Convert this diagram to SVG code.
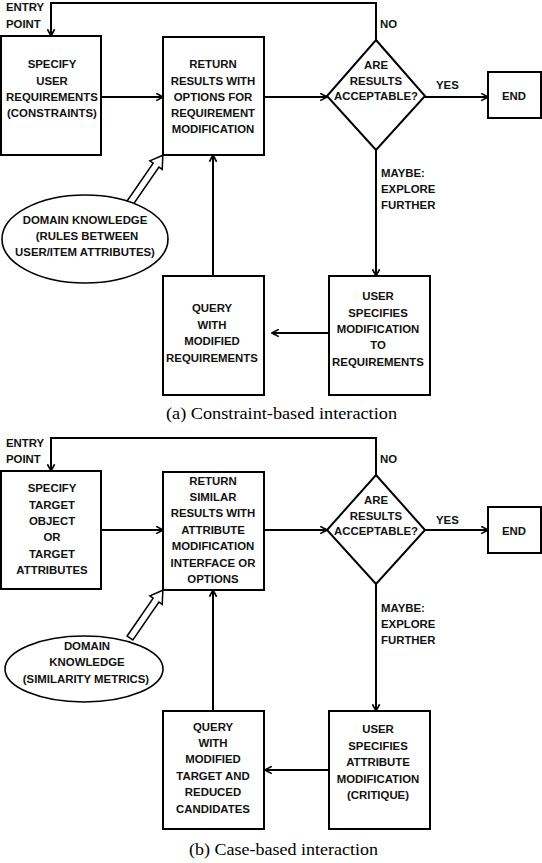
<svg xmlns="http://www.w3.org/2000/svg" width="542" height="863" viewBox="0 0 542 863">
<defs>
<marker id="arr" viewBox="0 0 10 10" refX="9" refY="5" markerWidth="9" markerHeight="9" markerUnits="userSpaceOnUse" orient="auto">
<path d="M1.5,1 L9,5 L1.5,9" fill="none" stroke="#000" stroke-width="1.8"/>
</marker>
</defs>
<style>
.box{fill:#fff;stroke:#000;stroke-width:2}
.ln{fill:none;stroke:#000;stroke-width:2}
.ar{fill:none;stroke:#000;stroke-width:2;marker-end:url(#arr)}
.hol{fill:#fff;stroke:#000;stroke-width:1.5;stroke-linejoin:miter}
text{font-family:"Liberation Sans",Arial,sans-serif;font-weight:bold;font-size:11.4px;fill:#111}
.c{text-anchor:middle}
.cap{font-family:"Liberation Serif","Times New Roman",serif;font-weight:normal;font-size:16px;fill:#000}
</style>

<!-- ===== (a) ===== -->
<g id="connectors-a">
<path class="ar" d="M376,40 V3 H51 V36"/>
<path class="ar" d="M101,97 H163"/>
<path class="ar" d="M264,97 H327"/>
<path class="ar" d="M425,97 H488"/>
<path class="ar" d="M376,150 V276"/>
<path class="ar" d="M329,333 H272"/>
<path class="ar" d="M213,276 V155"/>
<path class="hol" transform="translate(130,203) rotate(-55.5)" d="M0,-3.5 H46 V-7.5 L58,0 L46,7.5 V3.5 H0 Z"/>
<text x="6" y="11">ENTRY</text>
<text x="6" y="28">POINT</text>
<text x="380" y="28">NO</text>
<text x="436" y="89">YES</text>
<text x="381" y="177">MAYBE:</text>
<text x="381" y="193">EXPLORE</text>
<text x="381" y="209">FURTHER</text>
</g>
<g id="a-specify">
<rect class="box" x="1" y="36" width="100" height="119"/>
<text class="c" x="52" y="68">SPECIFY</text>
<text class="c" x="52" y="85">USER</text>
<text class="c" x="52" y="101">REQUIREMENTS</text>
<text class="c" x="52" y="117">(CONSTRAINTS)</text>
</g>
<g id="a-return">
<rect class="box" x="163" y="37" width="101" height="118"/>
<text class="c" x="213" y="68">RETURN</text>
<text class="c" x="213" y="85">RESULTS WITH</text>
<text class="c" x="213" y="101">OPTIONS FOR</text>
<text class="c" x="213" y="117">REQUIREMENT</text>
<text class="c" x="213" y="133">MODIFICATION</text>
</g>
<g id="a-decision">
<path class="box" d="M376,40 L425,96 L376,150 L327,96 Z"/>
<text class="c" x="376" y="69">ARE</text>
<text class="c" x="376" y="85">RESULTS</text>
<text class="c" x="376" y="100">ACCEPTABLE?</text>
</g>
<g id="a-end">
<rect class="box" x="488" y="72" width="53" height="46"/>
<text class="c" x="514" y="100">END</text>
</g>
<g id="a-user">
<rect class="box" x="329" y="276" width="101" height="119"/>
<text class="c" x="378" y="300">USER</text>
<text class="c" x="378" y="317">SPECIFIES</text>
<text class="c" x="378" y="333">MODIFICATION</text>
<text class="c" x="378" y="349">TO</text>
<text class="c" x="378" y="366">REQUIREMENTS</text>
</g>
<g id="a-query">
<rect class="box" x="163" y="276" width="101" height="119"/>
<text class="c" x="212" y="312">QUERY</text>
<text class="c" x="212" y="329">WITH</text>
<text class="c" x="212" y="345">MODIFIED</text>
<text class="c" x="212" y="362">REQUIREMENTS</text>
</g>
<g id="a-domain">
<ellipse class="box" style="stroke-width:1.6" cx="85" cy="239" rx="83" ry="44"/>
<text class="c" x="85" y="224">DOMAIN KNOWLEDGE</text>
<text class="c" x="87" y="240">(RULES BETWEEN</text>
<text class="c" x="85" y="256">USER/ITEM ATTRIBUTES)</text>
</g>
<text class="cap" x="166" y="419" textLength="231" lengthAdjust="spacingAndGlyphs">(a) Constraint-based interaction</text>

<!-- ===== (b) ===== -->
<g id="connectors-b">
<path class="ar" d="M376,475 V438 H51 V471"/>
<path class="ar" d="M101,530 H163"/>
<path class="ar" d="M264,530 H327"/>
<path class="ar" d="M425,530 H488"/>
<path class="ar" d="M376,584 V711"/>
<path class="ar" d="M329,770 H265"/>
<path class="ar" d="M213,711 V590"/>
<path class="hol" transform="translate(130,638) rotate(-55.5)" d="M0,-3.5 H46 V-7.5 L58,0 L46,7.5 V3.5 H0 Z"/>
<text x="6" y="447">ENTRY</text>
<text x="6" y="463">POINT</text>
<text x="380" y="463">NO</text>
<text x="436" y="524">YES</text>
<text x="381" y="612">MAYBE:</text>
<text x="381" y="628">EXPLORE</text>
<text x="381" y="644">FURTHER</text>
</g>
<g id="b-specify">
<rect class="box" x="1" y="471" width="100" height="118"/>
<text class="c" x="52" y="492">SPECIFY</text>
<text class="c" x="52" y="509">TARGET</text>
<text class="c" x="52" y="525">OBJECT</text>
<text class="c" x="52" y="541">OR</text>
<text class="c" x="52" y="558">TARGET</text>
<text class="c" x="52" y="574">ATTRIBUTES</text>
</g>
<g id="b-return">
<rect class="box" x="163" y="472" width="101" height="118"/>
<text class="c" x="213" y="485">RETURN</text>
<text class="c" x="213" y="501">SIMILAR</text>
<text class="c" x="213" y="517">RESULTS WITH</text>
<text class="c" x="213" y="534">ATTRIBUTE</text>
<text class="c" x="213" y="550">MODIFICATION</text>
<text class="c" x="213" y="567">INTERFACE OR</text>
<text class="c" x="213" y="583">OPTIONS</text>
</g>
<g id="b-decision">
<path class="box" d="M376,475 L425,530 L376,584 L327,530 Z"/>
<text class="c" x="376" y="504">ARE</text>
<text class="c" x="376" y="520">RESULTS</text>
<text class="c" x="376" y="535">ACCEPTABLE?</text>
</g>
<g id="b-end">
<rect class="box" x="488" y="507" width="53" height="46"/>
<text class="c" x="514" y="535">END</text>
</g>
<g id="b-user">
<rect class="box" x="329" y="711" width="101" height="118"/>
<text class="c" x="378" y="733">USER</text>
<text class="c" x="378" y="750">SPECIFIES</text>
<text class="c" x="378" y="766">ATTRIBUTE</text>
<text class="c" x="378" y="783">MODIFICATION</text>
<text class="c" x="378" y="799">(CRITIQUE)</text>
</g>
<g id="b-query">
<rect class="box" x="163" y="711" width="101" height="118"/>
<text class="c" x="213" y="731">QUERY</text>
<text class="c" x="213" y="747">WITH</text>
<text class="c" x="213" y="763">MODIFIED</text>
<text class="c" x="213" y="780">TARGET AND</text>
<text class="c" x="213" y="796">REDUCED</text>
<text class="c" x="213" y="813">CANDIDATES</text>
</g>
<g id="b-domain">
<ellipse class="box" style="stroke-width:1.6" cx="84" cy="669" rx="79" ry="33"/>
<text class="c" x="87" y="650">DOMAIN</text>
<text class="c" x="87" y="666">KNOWLEDGE</text>
<text class="c" x="86" y="683">(SIMILARITY METRICS)</text>
</g>
<text class="cap" x="189" y="855" textLength="189" lengthAdjust="spacingAndGlyphs">(b) Case-based interaction</text>
</svg>
